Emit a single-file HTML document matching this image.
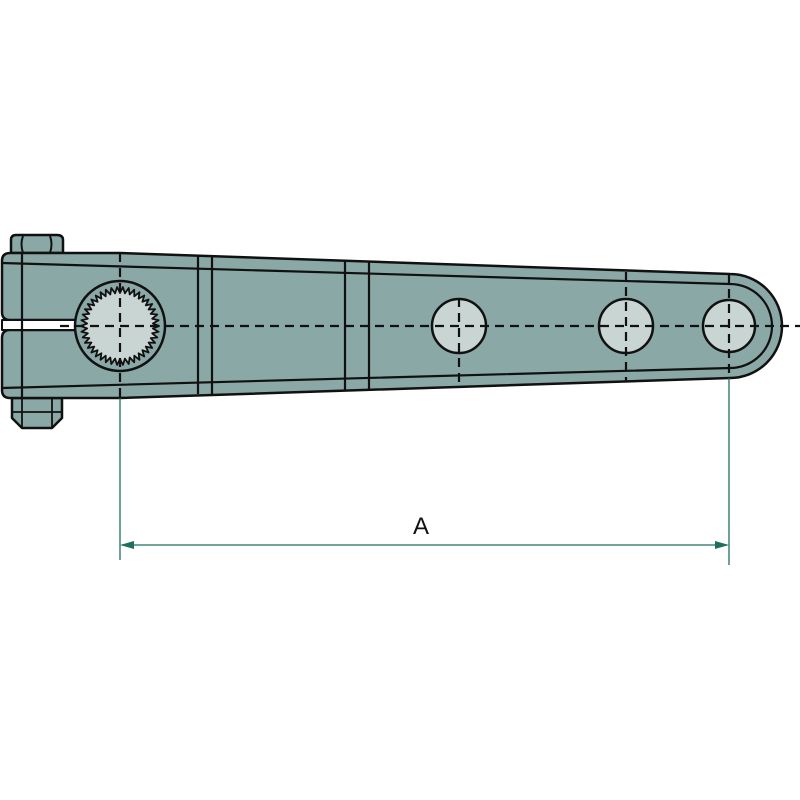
<!DOCTYPE html>
<html><head><style>html,body{margin:0;padding:0;background:#fff}svg{display:block}</style></head>
<body>
<svg id="s" width="800" height="800" viewBox="0 0 800 800" xmlns="http://www.w3.org/2000/svg">
<g stroke="#111" stroke-width="2.5" fill="#8aa8a6" stroke-linejoin="round">
  <path d="M11,253 L11,240 Q11,235 16,235 L57,235 Q63,235 63,240 L63,253 Z"/>
  <path d="M23,236 Q20,244 23,253 M50,236 Q53,244 50,253" fill="none" stroke-width="2"/>
  <path d="M12,398 L62,398 L62,418 L52,428 L22,428 L12,418 Z"/>
  <path d="M22,398 L22,428 M52,398 L52,428 M12,412 L62,412" fill="none" stroke-width="1.8"/>
  <path d="M120,253 L730,274 A52,52 0 0 1 730,378 L120,398 L10,398 Q2,398 2,390 L2,338 Q2,330 10,330 L75,330 L75,320 L10,320 Q2,320 2,312 L2,261 Q2,253 10,253 Z"/>
  <path d="M2,320 L75,320 L75,330 L2,330 Z" fill="#ffffff" stroke-width="2"/>
  <path d="M2,263 L730,284 A42,42 0 0 1 730,368 L2,388" fill="none" stroke-width="2.2"/>
  <path d="M22,253 L22,398 M198,256 L198,394 M212,257 L212,394 M345,261 L345,390 M369,262 L369,389" fill="none" stroke-width="2.2"/>
  <circle cx="120" cy="326" r="45"/>
  <polygon id="ser" fill="#c9d5d3" stroke-width="1.8"/>
  <circle cx="459" cy="326" r="27" fill="#c9d5d3"/>
  <circle cx="626" cy="326" r="27" fill="#c9d5d3"/>
  <circle cx="729" cy="326" r="26" fill="#c9d5d3"/>
  <g stroke-dasharray="9,6" stroke-width="2.2" fill="none">
    <path d="M60,326 L800,326"/>
    <path d="M120,253 L120,398 M459,298 L459,385 M626,272 L626,382 M729,274 L729,378"/>
  </g>
</g>
<g stroke="#1f6f5e" stroke-width="1.3" fill="#1f6f5e">
  <path d="M120,398 L120,560 M729,378 L729,565 M122,545 L727,545" fill="none"/>
  <path d="M120,545 L134,541 L134,549 Z M729,545 L715,541 L715,549 Z" stroke="none"/>
</g>
<text x="421" y="534" font-family="Liberation Sans, sans-serif" font-size="24" text-anchor="middle" fill="#111">A</text>
</svg>
<script>
var p=[],n=42;
for(var i=0;i<2*n;i++){var r=i%2?33:39,a=i*Math.PI/n;p.push((120+r*Math.cos(a)).toFixed(1)+","+(326+r*Math.sin(a)).toFixed(1));}
document.getElementById("ser").setAttribute("points",p.join(" "));
</script>
</body></html>
